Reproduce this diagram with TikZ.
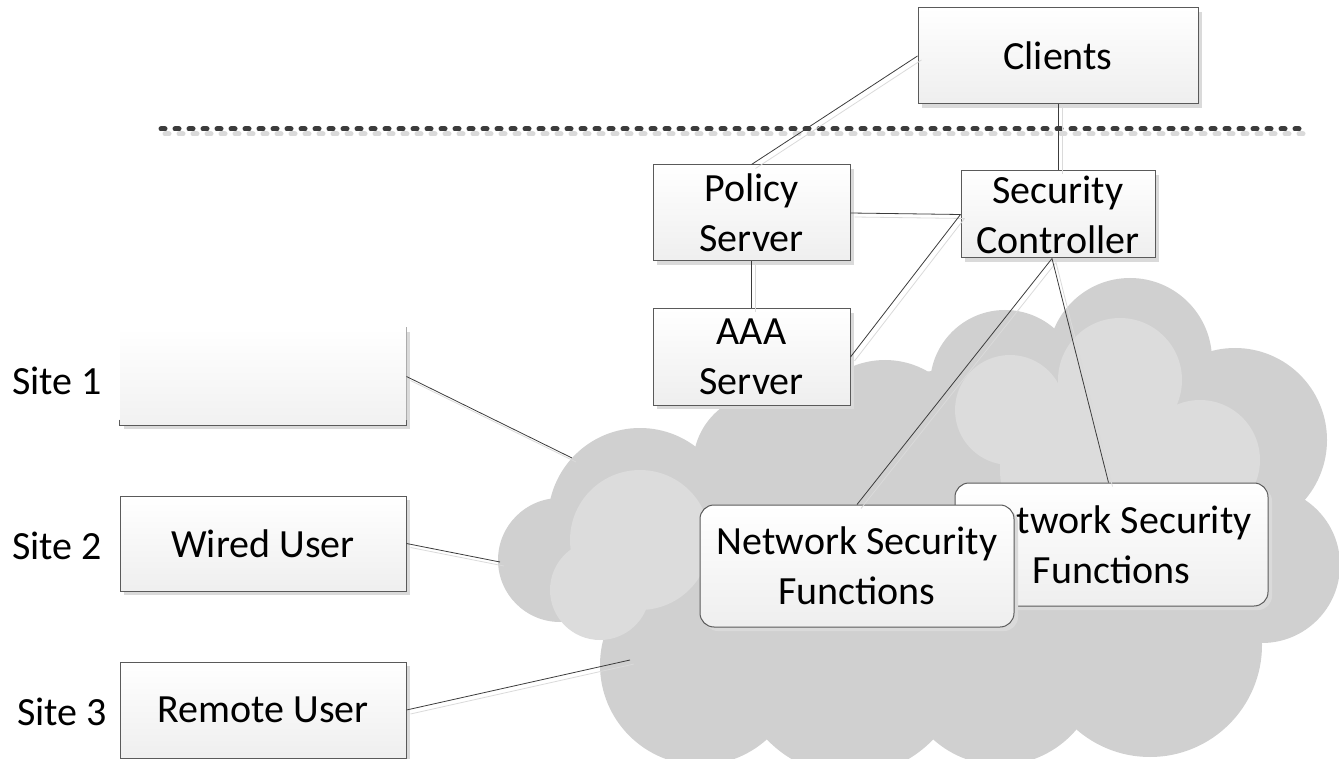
\documentclass[tikz,border=0pt]{standalone}
\usepackage{fontspec}
\setmainfont{Carlito}
\usepackage{tikz}
\usetikzlibrary{calc,positioning,shadows}
\definecolor{edgec}{HTML}{5A5A5A}
\definecolor{linec}{HTML}{3C3C3C}
\definecolor{shdc}{HTML}{DADADA}
\definecolor{cloudc}{HTML}{D0D0D0}
\definecolor{puffc}{HTML}{DCDCDC}
\tikzset{
  box/.style={draw=edgec,line width=1pt,top color=white,bottom color=gray!13,align=center,inner sep=2pt,
    font=\fontsize{40}{50}\selectfont,
    drop shadow={shadow xshift=4pt,shadow yshift=-4pt,fill=shdc,opacity=1}},
  nsf/.style={box,rounded corners=14pt,minimum width=314pt,minimum height=122pt},
  lbl/.style={font=\fontsize{40}{50}\selectfont,inner sep=0pt},
  ln/.style={linec,line width=0.8pt},
  lnshd/.style={shdc,line width=0.8pt,transform canvas={shift={(4pt,-4pt)}}}
}
\begin{document}
\begin{tikzpicture}[x=1pt,y=-1pt]
\useasboundingbox (0,0) rectangle (1339,759);
% cloud
\foreach \cx/\cy/\r in {560/560/62,640/520/92,700/665/100,850/660/115,1000/665/100,1150/645/112,
  1262/565/78,1235/440/92,1130/360/82,1005/385/75,885/445/85,765/465/72,950/530/160,1100/500/150}
  {\fill[cloudc] (\cx,\cy) circle (\r pt);}
\foreach \cx/\cy/\r in {1120/380/62,1010/410/55,1200/460/60,1080/470/80,640/540/70,600/590/50}
  {\fill[puffc] (\cx,\cy) circle (\r pt);}
% separator
\draw[shdc,line width=5pt,line cap=round,dash pattern=on 4pt off 10pt] (165,134) -- (1310,134);
\draw[linec,line width=5pt,line cap=round,dash pattern=on 4pt off 10pt] (161,129) -- (1306,129);
% nodes
\node[box,minimum width=280pt,minimum height=96pt] (clients) at (1058,56) {Clients};
\node[box,minimum width=197pt,minimum height=96pt] (policy) at (751.5,213) {Policy\\Server};
\node[box,minimum width=197pt,minimum height=96pt] (aaa) at (751.5,357) {AAA\\Server};
\node[box,minimum width=194pt,minimum height=87pt] (sc) at (1058,214.5) {Security\\Controller};
\node[box,draw=none,top color=white,bottom color=gray!11,minimum width=286pt,minimum height=97pt] (site1box) at (263,376.5) {};
\draw[edgec!50,line width=1pt] (site1box.north east) -- (site1box.south east);
\draw[edgec,line width=1pt] ($(site1box.south west)+(0,-6)$) -- (site1box.south west) -- (site1box.south east) -- ++(0,-6);
\node[box,minimum width=286pt,minimum height=95pt] (wired) at (263,543.5) {Wired User};
\node[box,minimum width=286pt,minimum height=96pt] (remote) at (263,710) {Remote User};
\node[nsf,minimum width=313pt,minimum height=123pt] (nsfb) at (1111.5,544.5) {Network Security\\Functions};
\node[nsf] (nsfa) at (857,566) {Network Security\\Functions};
\node[lbl] (site1) at (57,381) {Site 1};
\node[lbl] (site2) at (57,546) {Site 2};
\node[lbl] (site3) at (62,712) {Site 3};
% cloud edge points
\coordinate (c1) at (572,458);
\coordinate (c2) at (500,562);
\coordinate (c3) at (630,660);
% connectors
\foreach \st in {lnshd,ln}{
  \draw[\st] (clients.west) -- (policy.north);
  \draw[\st] (clients.south) -- (sc.north);
  \draw[\st] (policy.east) -- (sc.west);
  \draw[\st] (policy.south) -- (aaa.north);
  \draw[\st] (sc.west) -- (aaa.east);
  \draw[\st] ([xshift=-6pt]sc.south) -- (nsfa.north);
  \draw[\st] ([xshift=-6pt]sc.south) -- ([xshift=-3pt]nsfb.north);
  \draw[\st] (site1box.east) -- (c1);
  \draw[\st] (wired.east) -- (c2);
  \draw[\st] (remote.east) -- (c3);
}
\end{tikzpicture}
\end{document}
